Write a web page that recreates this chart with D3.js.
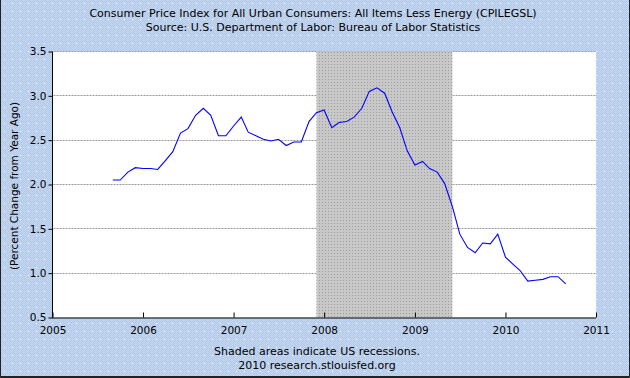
<!DOCTYPE html>
<html><head><meta charset="utf-8">
<script src="https://cdn.jsdelivr.net/npm/d3@7"></script>
<style>
body{margin:0;background:#fff;}
svg{display:block;}
text{font-family:"DejaVu Sans",Verdana,sans-serif;font-size:10px;fill:#000;}
</style></head>
<body><svg id="c" width="630" height="378"></svg>
<script>
// ---- data ----
const titleLines = ["Consumer Price Index for All Urban Consumers: All Items Less Energy (CPILEGSL)",
                    "Source: U.S. Department of Labor: Bureau of Labor Statistics"];
const footLines = ["Shaded areas indicate US recessions.", "2010 research.stlouisfed.org"];
const yLabel = "(Percent Change from Year Ago)";
const startMonth = "2005-09";
const values = [2.05,2.05,2.14,2.19,2.18,2.18,2.17,2.27,2.37,2.58,2.63,2.78,2.86,2.78,2.55,2.55,
  2.66,2.76,2.59,2.55,2.51,2.49,2.51,2.44,2.48,2.48,2.71,2.81,2.84,2.64,2.70,2.71,2.76,2.86,
  3.05,3.09,3.03,2.82,2.64,2.38,2.22,2.26,2.18,2.14,2.01,1.75,1.44,1.29,1.23,1.34,1.33,1.44,
  1.18,1.10,1.03,0.91,0.92,0.93,0.96,0.96,0.88];
const recessions = [["2007-12-01","2009-06-01"]];
const yTicks = [0.5,1.0,1.5,2.0,2.5,3.0,3.5];
const xTicks = ["2005","2006","2007","2008","2009","2010","2011"];
const xDomain = ["2005-01-01","2011-01-01"];
const yDomain = [0.5,3.5];

// ---- drawing ----
const svg = d3.select("#c");
const W = 630, H = 378;
const L = 52.5, R = 596, T = 51.5, B = 317.5;
const FONT = '"DejaVu Sans",Verdana,sans-serif';
const parse = d3.utcParse("%Y-%m-%d");
const x = d3.scaleUtc().domain(xDomain.map(parse)).range([L, R]);
const y = d3.scaleLinear().domain(yDomain).range([B, T]);

const defs = svg.append("defs");
const bp = defs.append("pattern").attr("id","bgp").attr("patternUnits","userSpaceOnUse")
  .attr("width",8).attr("height",8);
bp.append("rect").attr("width",8).attr("height",8).attr("fill","#B2C8E8");
for (let i=0;i<8;i++) for (let j=0;j<8;j++) if ((i+j)%2===0)
  bp.append("rect").attr("x",i).attr("y",j).attr("width",1).attr("height",1).attr("fill","#C6D8F0");
bp.append("rect").attr("x",4).attr("y",3).attr("width",1).attr("height",1).attr("fill","#EEF8FF");
const rp = defs.append("pattern").attr("id","recp").attr("patternUnits","userSpaceOnUse")
  .attr("width",3).attr("height",3);
rp.append("rect").attr("width",3).attr("height",3).attr("fill","#C8C8C8");
rp.append("rect").attr("x",1).attr("y",1).attr("width",1).attr("height",1).attr("fill","#9C9C9C");

svg.append("rect").attr("width",W).attr("height",H).attr("fill","url(#bgp)");
svg.append("path").attr("d",`M0.5,0 V${H-0.5} H${W-0.5} V0`).attr("fill","none")
  .attr("stroke","#222").attr("stroke-width",1);
svg.append("line").attr("x1",0).attr("x2",W).attr("y1",H-1.5).attr("y2",H-1.5).attr("stroke","#222");

svg.append("rect").attr("x",L).attr("y",T).attr("width",R-L).attr("height",B-T).attr("fill","#fff");

svg.append("g").selectAll("line").data(yTicks.filter(d=>d>yDomain[0])).join("line")
  .attr("x1",L+1).attr("x2",R).attr("y1",d=>Math.round(y(d)-0.5)+0.5).attr("y2",d=>Math.round(y(d)-0.5)+0.5)
  .attr("stroke","#999").attr("stroke-dasharray","2,1");

svg.append("g").selectAll("rect").data(recessions).join("rect")
  .attr("x",d=>x(parse(d[0]))).attr("width",d=>x(parse(d[1]))-x(parse(d[0])))
  .attr("y",T).attr("height",B-T).attr("fill","url(#recp)");

const yAxis = d3.axisLeft(y).tickValues(yTicks).tickFormat(d3.format(".1f"))
  .tickSize(4).tickSizeOuter(0).tickPadding(2);
const gy = svg.append("g").attr("transform",`translate(${L},0)`).call(yAxis);
gy.selectAll("text").style("font-family",FONT).style("font-size","10.5px");
gy.select(".domain").attr("d",`M0,${T}V${B}`);

const xAxis = d3.axisBottom(x).tickValues(xTicks.map(s=>parse(s+"-01-01")))
  .tickFormat(d3.utcFormat("%Y")).tickSize(-5).tickSizeOuter(0).tickPadding(9);
const gx = svg.append("g").attr("transform",`translate(0,${B})`).call(xAxis);
gx.selectAll("text").style("font-family",FONT).style("font-size","10.5px");
gx.select(".domain").attr("d",`M${L-0.5},0.5H${R}`);
svg.selectAll(".domain").attr("stroke","#000");

const start = d3.utcParse("%Y-%m")(startMonth);
const dates = d3.utcMonth.range(start, d3.utcMonth.offset(start, values.length));
const data = dates.map((d,i)=>({d, v:values[i]}));
svg.append("path").datum(data)
  .attr("d", d3.line().x(p=>x(p.d)).y(p=>y(p.v)))
  .attr("fill","none").attr("stroke","#0000FF").attr("stroke-width",1.1);

svg.append("g").selectAll("text").data(titleLines).join("text")
  .attr("x",313).attr("y",(d,i)=>17+i*14).attr("text-anchor","middle")
  .style("font-size","11px").text(d=>d);
svg.append("g").selectAll("text").data(footLines).join("text")
  .attr("x",317).attr("y",(d,i)=>355+i*14).attr("text-anchor","middle")
  .style("font-size","11px").text(d=>d);
svg.append("text").attr("transform",`translate(18,186) rotate(-90)`)
  .attr("text-anchor","middle").style("font-size","10.5px").text(yLabel);
</script></body></html>
